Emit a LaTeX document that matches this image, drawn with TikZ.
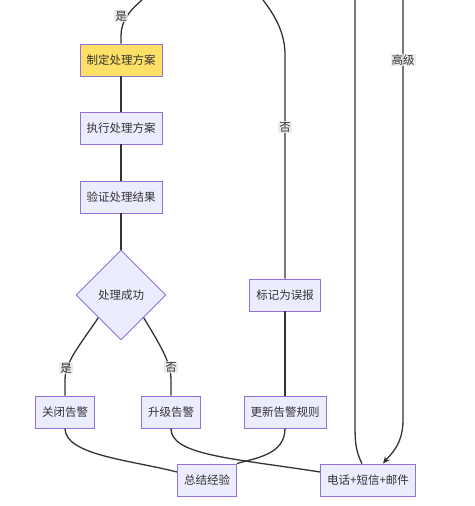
\documentclass[tikz,border=0pt]{standalone}
\usepackage{fontspec}
\setmainfont{Noto Sans CJK SC}
\usetikzlibrary{shapes.geometric,arrows.meta}
\definecolor{nodefill}{HTML}{ECECFF}
\definecolor{nodeline}{HTML}{9370DB}
\definecolor{hilite}{HTML}{FFE066}
\definecolor{edgeline}{HTML}{333333}
\definecolor{lblfill}{HTML}{E8E8E8}
\newcommand\chartfont{\fontsize{11.5}{13}\selectfont}
\tikzset{
  box/.style={draw=nodeline, fill=nodefill, line width=0.9pt, minimum height=32pt,
    inner xsep=6.5pt, inner ysep=0pt, text=edgeline, font=\chartfont},
  hot/.style={box, fill=hilite},
  choice/.style={diamond, aspect=1, draw=nodeline, fill=nodefill, line width=0.9pt,
    minimum width=90pt, minimum height=90pt, inner sep=0pt, text=edgeline, font=\chartfont},
  link/.style={draw=edgeline, line width=1.3pt},
  lbl/.style={fill=lblfill, fill opacity=0.8, text opacity=1, inner sep=1pt,
    text=edgeline, font=\chartfont}
}
\begin{document}
\begin{tikzpicture}[x=1pt, y=-1pt]
\useasboundingbox (0,0) rectangle (474,506);
\fill[white] (0,0) rectangle (474,506);

% nodes
\node[hot] (plan) at (121,60) {制定处理方案};
\node[box] (exec) at (121,128) {执行处理方案};
\node[box] (check) at (121,197) {验证处理结果};
\node[choice] (ok) at (121,295) {处理成功};
\node[box] (false) at (285,295) {标记为误报};
\node[box] (close) at (65,412) {关闭告警};
\node[box] (up) at (171,412) {升级告警};
\node[box] (rule) at (285,412) {更新告警规则};
\node[box] (sum) at (207,480) {总结经验};
\node[box] (call) at (368,480) {电话+短信+邮件};

% free ends at the top edge
\coordinate (inA) at (142,0);
\coordinate (inB) at (263,0);
\coordinate (outC) at (355,0);
\coordinate (inD) at (403,0);

% connectors
\draw[link] (inA) .. controls (128,12) and (121,22) .. (121,36) -- (plan.north);
\draw[link] (inB) .. controls (277,18) and (285,35) .. (285,55) -- (false.north);
\draw[link] (plan.south) -- (exec.north);
\draw[link] (exec.south) -- (check.north);
\draw[link] (check.south) -- (ok.north);
\draw[link] (ok.south west) .. controls (80,345) and (65,362) .. (65,380) -- (close.north);
\draw[link] (ok.south east) .. controls (160,345) and (171,362) .. (171,380) -- (up.north);
\draw[link] (false.south) -- (rule.north);
\draw[link] (close.south) .. controls (65,455) and (130,460) .. ([yshift=8pt]sum.west);
\draw[link] (up.south) .. controls (171,455) and (230,458) .. ([yshift=8pt]call.west);
\draw[link] (rule.south) .. controls (285,455) and (255,458) .. (sum.north east);
\draw[link] ([xshift=-6pt]call.north) .. controls (355,450) and (355,440) .. (355,420) -- (outC);
\draw[link, -{Stealth[length=7pt,width=6pt]}] (inD) -- (403,420)
  .. controls (403,445) and (390,455) .. ([xshift=15pt]call.north);

% edge labels
\node[lbl] (yesA) at (121,16) {是};
\node[lbl] (noA) at (285,127) {否};
\node[lbl] (yesB) at (66,368) {是};
\node[lbl] (noB) at (171,367) {否};
\node[lbl] (high) at (403,60) {高级};
\end{tikzpicture}
\end{document}
